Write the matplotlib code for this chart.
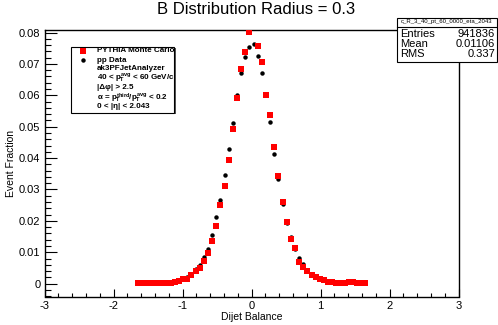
import numpy as np
import matplotlib
matplotlib.use('Agg')
from matplotlib import pyplot as plt
from matplotlib.lines import Line2D
from matplotlib.patches import Rectangle
from matplotlib.ticker import MultipleLocator, FuncFormatter

plt.rcParams['font.family'] = ['Liberation Sans', 'DejaVu Sans']
plt.rcParams['axes.unicode_minus'] = False
plt.rcParams['mathtext.fontset'] = 'custom'
plt.rcParams['mathtext.rm'] = 'Liberation Sans:bold'
plt.rcParams['mathtext.it'] = 'Liberation Sans:bold'
plt.rcParams['mathtext.bf'] = 'Liberation Sans:bold'

# bin centres of the dijet balance histogram
bins = [-1.65, -1.59, -1.53, -1.47, -1.41, -1.35, -1.29, -1.23, -1.17, -1.11,
        -1.05, -0.99, -0.93, -0.87, -0.81, -0.75, -0.69, -0.63, -0.57, -0.51,
        -0.45, -0.39, -0.33, -0.27, -0.21, -0.15, -0.09, -0.03, 0.03, 0.09,
        0.15, 0.21, 0.27, 0.33, 0.39, 0.45, 0.51, 0.57, 0.63, 0.69,
        0.75, 0.81, 0.87, 0.93, 0.99, 1.05, 1.11, 1.17, 1.23, 1.29,
        1.35, 1.41, 1.47, 1.53, 1.59, 1.65]

# PYTHIA Monte Carlo (red squares), nan = off the top of the frame
mc = [0.0001, 0.0001, 0.0002, 0.0001, 0.0002, 0.0002, 0.0002, 0.0002, 0.0003, 0.0004,
      0.0008, 0.0014, 0.0015, 0.0027, 0.0039, 0.0049, 0.0072, 0.0097, 0.0136, 0.0183,
      0.0250, 0.0310, 0.0393, 0.0492, 0.0591, 0.0683, 0.0738, 0.0803, np.nan, 0.0756,
      0.0705, 0.0600, 0.0536, 0.0435, 0.0342, 0.0259, 0.0196, 0.0141, 0.0113, 0.0068,
      0.0052, 0.0039, 0.0027, 0.0022, 0.0014, 0.0010, 0.0004, 0.0004, 0.0002, 0.0002,
      0.0002, 0.0004, 0.0004, 0.0002, 0.0001, 0.0001]

# pp data (black circles)
data = [0.0001, 0.0001, 0.0002, 0.0001, 0.0002, 0.0002, 0.0002, 0.0002, 0.0003, 0.0004,
        0.0008, 0.0014, 0.0022, 0.0031, 0.0046, 0.0060, 0.0084, 0.0111, 0.0155, 0.0211,
        0.0268, 0.0345, 0.0428, 0.0511, 0.0600, 0.0672, 0.0722, 0.0755, 0.0763, 0.0725,
        0.0671, 0.0600, 0.0514, 0.0414, 0.0334, 0.0255, 0.0194, 0.0148, 0.0111, 0.0081,
        0.0063, 0.0042, 0.0030, 0.0022, 0.0014, 0.0010, 0.0004, 0.0004, 0.0002, 0.0002,
        0.0002, 0.0004, 0.0004, 0.0002, 0.0001, 0.0001]

legend_lines = ['PYTHIA Monte Carlo', 'pp Data', 'ak3PFJetAnalyzer',
                '40 < $p_{T}^{avg}$ < 60 GeV/c', '|\u0394\u03c6| > 2.5',
                '\u03b1 = $p_{T}^{third}/p_{T}^{avg}$ < 0.2', '0 < |\u03b7| < 2.043']
stats_name = 'c_R_3_40_pt_60_0000_eta_2043'
stats = [('Entries', '941836'), ('Mean', '0.01106'), ('RMS', '0.337')]

W, H = 498, 325


def fx(px):
    return px / W


def fy(py):
    return 1 - py / H


fig = plt.figure(figsize=(W / 100, H / 100), dpi=100)
ax = fig.add_axes([fx(44.5), fy(296.5), (458.5 - 44.5) / W, (296.5 - 30) / H])

ax.plot(bins, data, 'o', color='black', ms=3.2, mew=0, zorder=3)
ax.plot(bins, mc, 's', color='#ff0000', ms=3.7, mew=0, zorder=4)

ax.set_xlim(-3, 3)
ax.set_ylim(-0.0041, 0.0808)
ax.xaxis.set_major_locator(MultipleLocator(1))
ax.xaxis.set_minor_locator(MultipleLocator(0.2))
ax.yaxis.set_major_locator(MultipleLocator(0.01))
ax.yaxis.set_minor_locator(MultipleLocator(0.002))
ax.yaxis.set_major_formatter(FuncFormatter(lambda v, p: '%g' % round(v, 3)))
ax.xaxis.set_major_formatter(FuncFormatter(lambda v, p: '%g' % v))
ax.tick_params(axis='x', which='major', direction='in', length=5.8, width=0.8, labelsize=8, pad=3)
ax.tick_params(axis='x', which='minor', direction='in', length=2.9, width=0.8)
ax.tick_params(axis='y', which='major', direction='in', length=8.9, width=0.8, labelsize=8, pad=3)
ax.tick_params(axis='y', which='minor', direction='in', length=4.5, width=0.8)
for s in ax.spines.values():
    s.set_linewidth(1.0)

ax.set_xlabel('Dijet Balance', fontsize=7.5, labelpad=1)
ax.set_ylabel('Event Fraction', fontsize=7.5, labelpad=2)
fig.text(fx(256), fy(9), 'B Distribution Radius = 0.3', fontsize=12,
         ha='center', va='center')

# legend box
fig.add_artist(Rectangle((fx(72), fy(114.2)), fx(174.3) - fx(70.7), (112.7 - 46.7) / H,
                         transform=fig.transFigure, facecolor='#555555', edgecolor='none'))
fig.add_artist(Rectangle((fx(70.7), fy(112.7)), fx(174.3) - fx(70.7), (112.7 - 46.7) / H,
                         transform=fig.transFigure, facecolor='white', edgecolor='black', lw=0.8))
ys = [50.7, 60.3, 68.7, 78.7, 87.7, 98, 107]
for t, y in zip(legend_lines, ys):
    fig.text(fx(96.5), fy(y), t, fontsize=5.8, fontweight='bold', ha='left', va='center')
fig.add_artist(Line2D([fx(83.3)], [fy(50.7)], transform=fig.transFigure, marker='s',
                      color='#ff0000', ms=3.7, mew=0))
fig.add_artist(Line2D([fx(83.3)], [fy(60.3)], transform=fig.transFigure, marker='o',
                      color='black', ms=3.2, mew=0))

# stats box
fig.add_artist(Rectangle((fx(397), fy(61.5)), fx(497) - fx(397), (61.5 - 17.5) / H,
                         transform=fig.transFigure, facecolor='white', edgecolor='black', lw=0.8))
fig.add_artist(Line2D([fx(397), fx(497)], [fy(26.5), fy(26.5)], transform=fig.transFigure,
                      color='black', lw=0.8))
fig.text(fx(447), fy(22), stats_name, fontsize=4.3, ha='center', va='center')
for i, (k, v) in enumerate(stats):
    y = 34 + 10 * i
    fig.text(fx(400), fy(y), k, fontsize=8, ha='left', va='center')
    fig.text(fx(495), fy(y), v, fontsize=8, ha='right', va='center')

fig.savefig('out.png', dpi=100)
